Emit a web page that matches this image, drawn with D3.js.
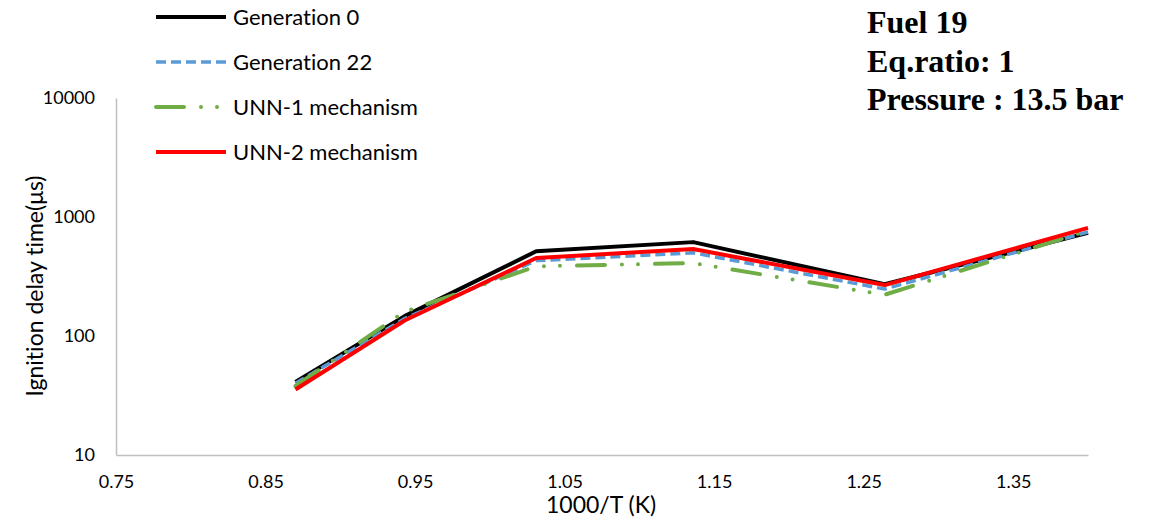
<!DOCTYPE html>
<html>
<head>
<meta charset="utf-8">
<script src="https://cdn.jsdelivr.net/npm/d3@7"></script>
<style>
  html, body { margin: 0; padding: 0; background: #fff; }
  svg { display: block; }
  text { font-variant-ligatures: none; font-feature-settings: "liga" 0, "clig" 0; }
  .tick text { font-family: Lato, "Open Sans", sans-serif; fill: #000; }
</style>
</head>
<body>
<svg id="chart" width="1150" height="518"></svg>
<script>
// Ignition delay data, x = 1000/T (K^-1), y = ignition delay time (µs)
const invT = [0.87, 0.943, 1.031, 1.136, 1.264, 1.40];
const gen0 = [41, 147, 515, 615, 272, 735];
const gen22 = [40, 140, 430, 500, 248, 748];
const unn1 = [38, 160, 385, 410, 222, 770];
const unn2 = [35.5, 135, 452, 538, 268, 810];

const seriesNames = ["Generation 0", "Generation 22", "UNN-1 mechanism", "UNN-2 mechanism"];
const seriesValues = [gen0, gen22, unn1, unn2];

const xTicks = [0.75, 0.85, 0.95, 1.05, 1.15, 1.25, 1.35];
const yTicks = [10, 100, 1000, 10000];

const infoLines = ["Fuel 19", "Eq.ratio: 1", "Pressure : 13.5 bar"];

// line styles per series
const styles = [
  { color: "#000000", width: 4,   dash: null,              cap: "butt"  },
  { color: "#5B9BD5", width: 3.5, dash: "10,5",            cap: "butt"  },
  { color: "#70AD47", width: 4,   dash: "28,17,0,16,0,17", cap: "round" },
  { color: "#FF0000", width: 4,   dash: null,              cap: "butt"  }
];

const svg = d3.select("#chart");
const plot = { left: 116, right: 1088, top: 98, bottom: 455 };

const x = d3.scaleLinear().domain([0.75, 1.40]).range([plot.left, plot.right]);
const y = d3.scaleLog().domain([10, 10000]).range([plot.bottom, plot.top]);

// axes
const yAxis = svg.append("g")
  .attr("transform", `translate(${plot.left},0)`)
  .call(d3.axisLeft(y).tickValues(yTicks).tickFormat(d3.format("d")).tickSize(0).tickSizeOuter(0).tickPadding(21));
yAxis.selectAll("text").style("font-size", "18px");

const xAxis = svg.append("g")
  .attr("transform", `translate(0,${plot.bottom})`)
  .call(d3.axisBottom(x).tickValues(xTicks).tickFormat(d3.format(".2f")).tickSize(0).tickSizeOuter(0));
xAxis.selectAll("text").attr("y", 33).attr("dy", 0).style("font-size", "18px");

[yAxis, xAxis].forEach(g => g.select(".domain").attr("stroke", "#BFBFBF").attr("stroke-width", 1.5));

// axis titles
svg.append("text")
  .attr("x", 601).attr("y", 513)
  .attr("text-anchor", "middle")
  .style("font-family", "Lato, 'Open Sans', sans-serif")
  .style("font-size", "23px")
  .text("1000/T (K)");

svg.append("text")
  .attr("transform", "translate(43,286) rotate(-90)")
  .attr("text-anchor", "middle")
  .style("font-family", "Lato, 'Open Sans', sans-serif")
  .style("font-size", "23px")
  .text("Ignition delay time(μs)");

// series lines
const line = d3.line().x((d, i) => x(invT[i])).y(d => y(d));

seriesValues.forEach((vals, k) => {
  const s = styles[k];
  svg.append("path")
    .datum(vals)
    .attr("d", line)
    .attr("fill", "none")
    .attr("stroke", s.color)
    .attr("stroke-width", s.width)
    .attr("stroke-linejoin", "round")
    .attr("stroke-linecap", s.cap)
    .attr("stroke-dasharray", s.dash);
});

// legend
const legend = svg.append("g");
seriesNames.forEach((name, k) => {
  const s = styles[k];
  const ly = 17 + k * 45;
  legend.append("line")
    .attr("x1", 156).attr("x2", 226)
    .attr("y1", ly).attr("y2", ly)
    .attr("stroke", s.color)
    .attr("stroke-width", s.width)
    .attr("stroke-linecap", s.cap)
    .attr("stroke-dasharray", s.dash);
  legend.append("text")
    .attr("x", 233).attr("y", ly).attr("dy", "0.36em")
    .style("font-family", "Lato, 'Open Sans', sans-serif")
    .style("font-size", "22px")
    .text(name);
});

// condition annotation
const info = svg.append("text")
  .style("font-family", "'Liberation Serif', 'Times New Roman', serif")
  .style("font-weight", "bold")
  .style("font-size", "32px");
infoLines.forEach((t, i) => {
  info.append("tspan").attr("x", 867).attr("y", 33 + i * 38.5).text(t);
});
</script>
</body>
</html>
